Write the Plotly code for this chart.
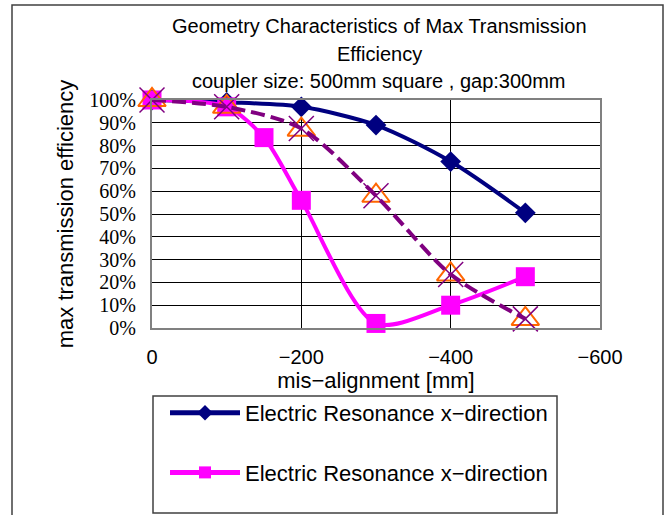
import plotly.graph_objects as go

# ---- data ----
x_navy = [0, -100, -200, -300, -400, -500]
y_navy = [1.00, 0.99, 0.97, 0.89, 0.73, 0.505]

x_mag = [0, -100, -150, -200, -300, -400, -500]
y_mag = [1.00, 0.97, 0.835, 0.56, 0.02, 0.10, 0.225]

x_tri = [0, -100, -200, -300, -400, -500]
y_tri = [1.00, 0.97, 0.87, 0.58, 0.235, 0.04]

x_x = [0, -100, -200, -300, -400, -500]
y_x = [1.00, 0.97, 0.875, 0.58, 0.235, 0.04]

legend_name = "Electric Resonance x\u2212direction"
title_lines = ["Geometry Characteristics of Max Transmission",
               "Efficiency",
               "coupler size: 500mm square , gap:300mm"]

FONT = "Liberation Sans"
NARROW = "Liberation Sans Narrow"
NAVY = "#000080"
MAGENTA = "#FF00FF"
PURPLE = "#800080"
ORANGE = "#FF6600"

fig = go.Figure()

fig.add_trace(go.Scatter(
    x=x_navy, y=y_navy, mode="lines+markers", name=legend_name,
    line=dict(color=NAVY, width=4, shape="spline", smoothing=0.8),
    marker=dict(symbol="diamond", size=16, color=NAVY),
    legendgroup="a", showlegend=True, cliponaxis=False))

fig.add_trace(go.Scatter(
    x=x_mag, y=y_mag, mode="lines+markers", name=legend_name,
    line=dict(color=MAGENTA, width=4, shape="spline", smoothing=0.8),
    marker=dict(symbol="square", size=19, color=MAGENTA),
    legendgroup="b", showlegend=True, cliponaxis=False))

fig.add_trace(go.Scatter(
    x=x_tri, y=y_tri, mode="markers", name="tri",
    marker=dict(symbol="triangle-up-open", size=24, color=ORANGE,
                line=dict(color=ORANGE, width=2)),
    showlegend=False, cliponaxis=False))

fig.add_trace(go.Scatter(
    x=x_x, y=y_x, mode="lines+markers", name="x",
    line=dict(color=PURPLE, width=4, dash="14px,6px", shape="spline", smoothing=0.8),
    marker=dict(symbol="x-thin-open", size=25, color=PURPLE,
                line=dict(color=PURPLE, width=1.5)),
    showlegend=False, cliponaxis=False))

# plot area in pixels: left 152, right 600, top 100, bottom 328
L, R, T, B = 152, 600, 100, 328
W, H = R - L, B - T
def px(xp): return (xp - L) / W
def py(yp): return (B - yp) / H

annotations = []
for txt, yc in zip(title_lines, [26, 54, 81]):
    annotations.append(dict(text=txt, x=px(379), y=py(yc), xref="paper", yref="paper",
                            showarrow=False, xanchor="center", yanchor="middle",
                            font=dict(family=FONT, size=20, color="black")))

shapes = [
    # outer chart border
    dict(type="rect", xref="paper", yref="paper", x0=px(12), x1=px(663), y0=py(530), y1=py(5),
         line=dict(color="#404040", width=1.5), layer="below"),
    # legend box
    dict(type="rect", xref="paper", yref="paper", x0=px(153), x1=px(557), y0=py(513), y1=py(396),
         line=dict(color="#404040", width=1.5)),
]

fig.update_layout(
    width=672, height=515,
    margin=dict(l=L, r=672 - R, t=T, b=515 - B),
    paper_bgcolor="white", plot_bgcolor="white",
    font=dict(family=FONT, size=20, color="black"),
    showlegend=True,
    legend=dict(x=px(165), y=py(392), xanchor="left", yanchor="top",
                xref="paper", yref="paper",
                bgcolor="rgba(0,0,0,0)", borderwidth=0,
                font=dict(family=FONT, size=22, color="black"),
                itemwidth=70, tracegroupgap=28, itemsizing="constant"),
    annotations=annotations,
    shapes=shapes,
)

fig.update_xaxes(
    range=[0, -600], tickvals=[0, -200, -400, -600],
    showgrid=True, gridcolor="black", gridwidth=1,
    showline=True, linecolor="#808080", linewidth=2, mirror=True,
    zeroline=False, ticks="", ticklabelstandoff=10,
    tickfont=dict(family=FONT, size=20),
    title=dict(text="mis\u2212alignment [mm]", font=dict(family=FONT, size=22), standoff=0),
)

fig.update_yaxes(
    range=[0, 1.0], dtick=0.1, tickformat=".0%",
    showgrid=True, gridcolor="black", gridwidth=1,
    showline=True, linecolor="#808080", linewidth=2, mirror=True,
    zeroline=False, ticks="", ticklabelstandoff=10,
    tickfont=dict(family=NARROW, size=20),
    title=dict(text="max transmission efficiency", font=dict(family=FONT, size=22), standoff=10),
)

fig.write_html("out.html")
